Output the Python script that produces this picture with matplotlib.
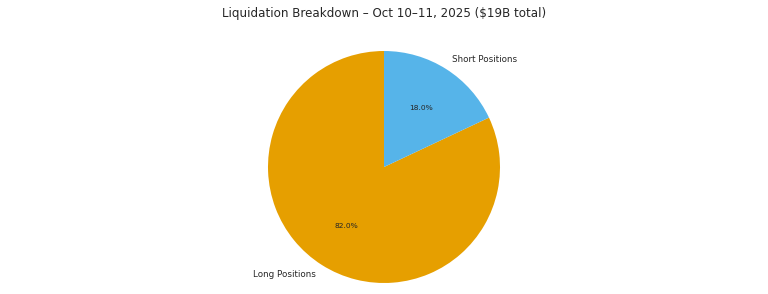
import matplotlib
matplotlib.use("Agg")
import matplotlib.pyplot as plt

labels = ["Long Positions", "Short Positions"]
shares = [82.0, 18.0]
colors = ["#E69F00", "#56B4E9"]

fig = plt.figure(figsize=(7.68, 2.94), dpi=100)
# pie of radius ~116 px centred at (384, 167)
ax = fig.add_axes([(384 - 116) / 768, (294 - 283) / 294, 232 / 768, 232 / 294])
wedges, texts, autotexts = ax.pie(shares, labels=labels, colors=colors, autopct="%1.1f%%",
                                  startangle=90, counterclock=True,
                                  textprops={"color": "#262626"})
for t in texts:
    t.set_fontsize(6.3)
    t.set_clip_on(False)
for t in autotexts:
    t.set_fontsize(5.4)
ax.set_xlim(-1, 1)
ax.set_ylim(-1, 1)
ax.set_aspect("equal")

fig.text(0.5, 1 - 13 / 294, "Liquidation Breakdown – Oct 10–11, 2025 ($19B total)",
         ha="center", va="center", fontsize=8.55, color="#262626")

fig.savefig("out.png", dpi=100)
